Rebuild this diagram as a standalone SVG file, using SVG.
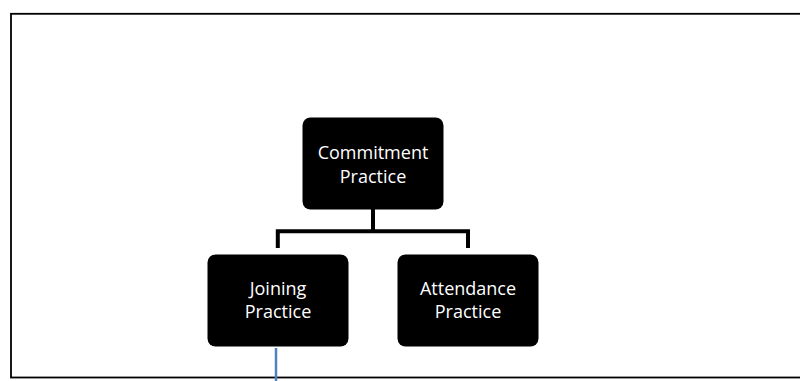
<svg xmlns="http://www.w3.org/2000/svg" width="800" height="381" viewBox="0 0 800 381">
<style>
.box{fill:#000;}
.lbl{fill:#fff;font-family:"Open Sans","Liberation Sans",sans-serif;font-size:18px;text-anchor:middle;}
.conn{stroke:#000;stroke-width:4;fill:none;}
</style>
<rect x="0" y="0" width="800" height="381" fill="#fff"/>
<rect x="11" y="13.8" width="800" height="363.7" fill="none" stroke="#000" stroke-width="1.8"/>
<g id="connectors">
<path class="conn" d="M373 209 V231.3 M277.8 248 V231.3 H468 V248"/>
<line x1="276" y1="348" x2="276" y2="381" stroke="#4F81BD" stroke-width="2.5"/>
</g>
<g id="commitment">
<rect class="box" x="302.5" y="117.5" width="141" height="92" rx="8"/>
<text class="lbl" x="373" y="159">Commitment</text>
<text class="lbl" x="373" y="182.5">Practice</text>
</g>
<g id="joining">
<rect class="box" x="207.5" y="254.5" width="141" height="92" rx="8"/>
<text class="lbl" x="278" y="295">Joining</text>
<text class="lbl" x="278" y="318">Practice</text>
</g>
<g id="attendance">
<rect class="box" x="397.5" y="254.5" width="141" height="92" rx="8"/>
<text class="lbl" x="468" y="295">Attendance</text>
<text class="lbl" x="468" y="318">Practice</text>
</g>
</svg>
